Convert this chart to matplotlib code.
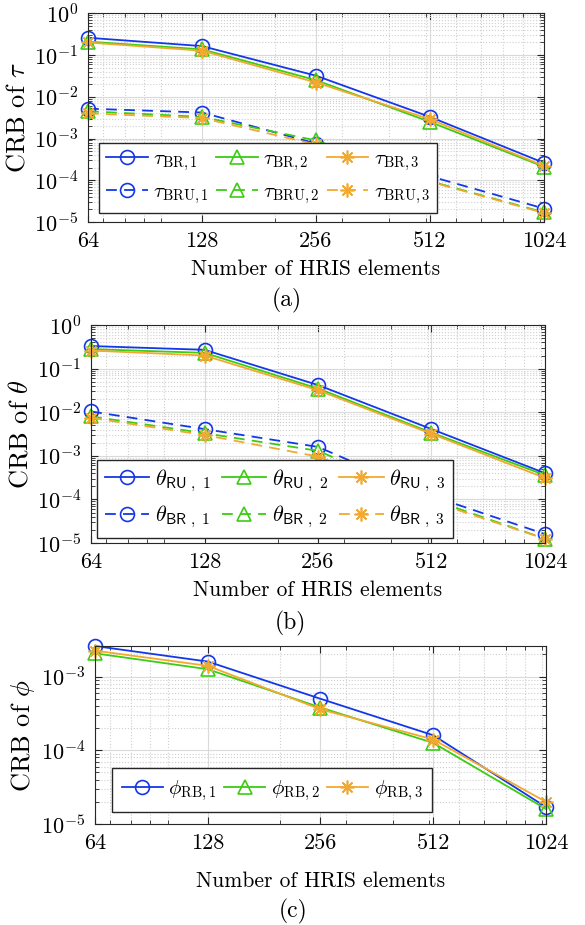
import matplotlib
matplotlib.use('Agg')
import matplotlib.pyplot as plt
import matplotlib.ticker as mticker
import numpy as np

plt.rcParams['font.family'] = 'serif'
plt.rcParams['font.serif'] = ['cmr10', 'DejaVu Serif']
plt.rcParams['mathtext.fontset'] = 'cm'
plt.rcParams['axes.formatter.use_mathtext'] = True

# HRIS sizes
n_elements = [64, 128, 256, 512, 1024]
xtick_labels = ['64', '128', '256', '512', '1024']

# (a) CRB of tau
tau_br_1 = [0.26, 0.164, 0.032, 0.0033, 2.6e-4]
tau_br_2 = [0.21, 0.137, 0.025, 0.0025, 2.1e-4]
tau_br_3 = [0.20, 0.127, 0.022, 0.0029, 2.2e-4]
tau_bru_1 = [0.0052, 0.0042, 7.6e-4, 1.25e-4, 2.1e-5]
tau_bru_2 = [0.0045, 0.0033, 9.0e-4, 9.5e-5, 1.7e-5]
tau_bru_3 = [0.0040, 0.0031, 7.2e-4, 9.2e-5, 1.65e-5]

# (b) CRB of theta
theta_ru_1 = [0.33, 0.27, 0.042, 0.0041, 4.0e-4]
theta_ru_2 = [0.28, 0.23, 0.035, 0.0034, 3.6e-4]
theta_ru_3 = [0.26, 0.20, 0.032, 0.0032, 3.1e-4]
theta_br_1 = [0.0104, 0.0041, 0.0016, 1.2e-4, 1.6e-5]
theta_br_2 = [0.0080, 0.0033, 0.0013, 1.0e-4, 1.25e-5]
theta_br_3 = [0.0074, 0.0030, 0.00096, 9.0e-5, 1.25e-5]

# (c) CRB of phi
phi_rb_1 = [2.6e-3, 1.6e-3, 5.0e-4, 1.6e-4, 1.7e-5]
phi_rb_2 = [2.07e-3, 1.26e-3, 3.8e-4, 1.26e-4, 1.6e-5]
phi_rb_3 = [2.25e-3, 1.4e-3, 3.6e-4, 1.4e-4, 2.0e-5]

blue = '#1438e8'
green = '#3ccc14'
orange = '#f2a930'
colors = [blue, green, orange]
markers = ['o', '^', (8, 2, 0)]
dash = (6, 4)

fig = plt.figure(figsize=(5.85, 9.25), dpi=100)
ax_a = fig.add_axes([0.1504, 0.760, 0.7796, 0.2256])
ax_b = fig.add_axes([0.1556, 0.413, 0.776, 0.2356])
ax_c = fig.add_axes([0.1624, 0.1092, 0.7709, 0.1924])


def draw(ax, y, color, marker, dashed, label):
    line, = ax.plot(n_elements, y, color=color, marker=marker, markersize=10,
                    markerfacecolor='none', markeredgecolor=color,
                    markeredgewidth=1.2, linewidth=1.3, label=label,
                    clip_on=False)
    if dashed:
        line.set_dashes(dash)
    return line


def style(ax, ylabel, ylim, xpad=6):
    ax.set_xscale('log')
    ax.set_yscale('log')
    ax.set_xlim(64, 1024)
    ax.set_ylim(*ylim)
    ax.xaxis.set_major_locator(mticker.FixedLocator(n_elements))
    ax.xaxis.set_major_formatter(mticker.FixedFormatter(xtick_labels))
    ax.xaxis.set_minor_locator(mticker.LogLocator(base=10, subs=np.arange(1, 10), numticks=100))
    ax.xaxis.set_minor_formatter(mticker.NullFormatter())
    ax.yaxis.set_major_locator(mticker.LogLocator(base=10, numticks=100))
    ax.yaxis.set_minor_locator(mticker.LogLocator(base=10, subs=np.arange(2, 10), numticks=100))
    ax.yaxis.set_minor_formatter(mticker.NullFormatter())
    ax.tick_params(which='both', direction='in', top=True, right=True,
                   labelsize=16, color='#262626')
    ax.tick_params(which='major', length=5, pad=7)
    ax.tick_params(which='minor', length=3)
    ax.grid(True, which='major', color='#dadada', linewidth=0.8)
    ax.grid(True, which='minor', color='#cfcfcf', linestyle=':', linewidth=0.8)
    ax.set_axisbelow(True)
    for s in ax.spines.values():
        s.set_color('#262626')
        s.set_linewidth(0.8)
    ax.set_xlabel('Number of HRIS elements', fontsize=15.5, labelpad=xpad)
    ax.set_ylabel(ylabel, fontsize=19, labelpad=3)


leg_kw = dict(ncol=3, loc='lower left', fontsize=15, frameon=True, fancybox=False,
              edgecolor='#262626', framealpha=1, handlelength=2.0, handletextpad=0.25,
              columnspacing=0.35, borderpad=0.35, labelspacing=0.45, borderaxespad=0)

# panel (a)
a_solid = [tau_br_1, tau_br_2, tau_br_3]
a_dash = [tau_bru_1, tau_bru_2, tau_bru_3]
h = []
for i in range(3):
    h1 = draw(ax_a, a_solid[i], colors[i], markers[i], False, r'$\tau_{\mathrm{BR},%d}$' % (i + 1))
    h2 = draw(ax_a, a_dash[i], colors[i], markers[i], True, r'$\tau_{\mathrm{BRU},%d}$' % (i + 1))
    h += [h1, h2]
style(ax_a, r'CRB of $\tau$', (1e-5, 1))
ax_a.legend(handles=h, bbox_to_anchor=(0.024, 0.043), **leg_kw)

# panel (b)
b_solid = [theta_ru_1, theta_ru_2, theta_ru_3]
b_dash = [theta_br_1, theta_br_2, theta_br_3]
h = []
for i in range(3):
    h1 = draw(ax_b, b_solid[i], colors[i], markers[i], False, r'$\theta_{\mathsf{RU\ ,\ %d}}$' % (i + 1))
    h2 = draw(ax_b, b_dash[i], colors[i], markers[i], True, r'$\theta_{\mathsf{BR\ ,\ %d}}$' % (i + 1))
    h += [h1, h2]
style(ax_b, r'CRB of $\theta$', (1e-5, 1))
ax_b.legend(handles=h, bbox_to_anchor=(0.013, 0.023),
            **dict(leg_kw, fontsize=16, columnspacing=0.5))

# panel (c)
c_vals = [phi_rb_1, phi_rb_2, phi_rb_3]
h = []
for i in range(3):
    h.append(draw(ax_c, c_vals[i], colors[i], markers[i], False, r'$\phi_{\mathrm{RB},%d}$' % (i + 1)))
style(ax_c, r'CRB of $\phi$', (1e-5, 2.6e-3), xpad=13)
ax_c.legend(handles=h, bbox_to_anchor=(0.038, 0.067), **dict(leg_kw, borderpad=0.45))

fig.text(287 / 585, 1 - 300 / 925, '(a)', ha='center', va='center', fontsize=17)
fig.text(290 / 585, 1 - 623 / 925, '(b)', ha='center', va='center', fontsize=17)
fig.text(293 / 585, 1 - 911 / 925, '(c)', ha='center', va='center', fontsize=17)

fig.savefig('out.png', dpi=100)
